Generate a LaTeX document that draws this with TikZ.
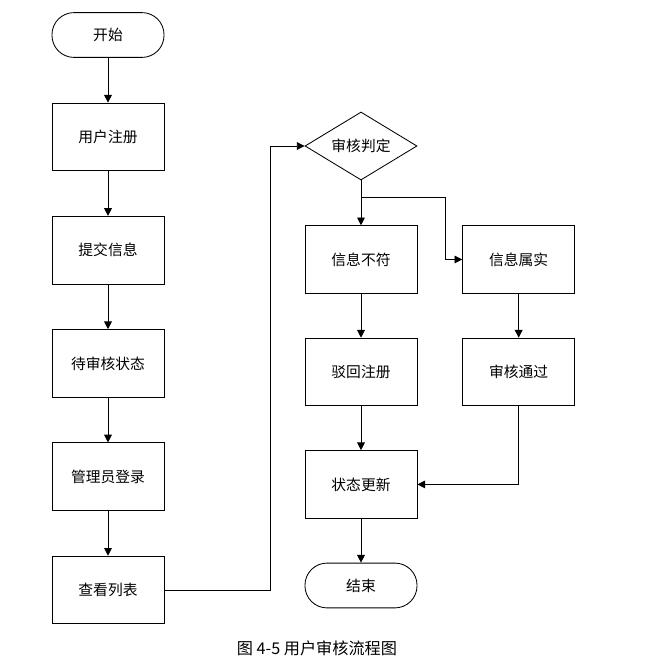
\documentclass[tikz,border=0pt]{standalone}
\usepackage{fontspec}
\setmainfont{Noto Sans CJK SC}
\usepackage{tikz}
\usetikzlibrary{calc,positioning,shapes.geometric,arrows.meta}
\tikzset{
    stepbox/.style={
    rectangle,draw=black,line width=0.6pt,minimum width=2.8cm,minimum height=1.69cm,inner sep=2pt,font=\fontsize{10.5pt}{12pt}\selectfont
    },
    term/.style={
    rectangle,rounded corners=0.55cm,draw=black,line width=0.6pt,minimum width=2.8cm,minimum height=1.12cm,font=\fontsize{10.5pt}{12pt}\selectfont
    },
    decide/.style={
    diamond,aspect=1.65,draw=black,line width=0.6pt,minimum width=2.8cm,minimum height=1.7cm,inner sep=0pt,font=\fontsize{10.5pt}{12pt}\selectfont
    },
  line/.style={draw, line width=0.6pt, -{Triangle[length=5.5pt,width=5.5pt]}}
}

\begin{document}
\begin{tikzpicture}[x=0.025cm,y=-0.025cm,node distance=1.12cm]
    \useasboundingbox (0,0) rectangle (649,667);

    % left column
    \node[term] (start) at (108,35) {开始};
    \node[stepbox,below=of start] (reg) {用户注册};
    \node[stepbox,below=of reg] (sub) {提交信息};
    \node[stepbox,below=of sub] (wait) {待审核状态};
    \node[stepbox,below=of wait] (admin) {管理员登录};
    \node[stepbox,below=of admin] (list) {查看列表};

    % right column
    \node[decide] (dec) at (361,146) {审核判定};
    \node[stepbox,below=1.12cm of dec] (no) {信息不符};
    \node[stepbox,right=1.12cm of no] (yes) {信息属实};
    \node[stepbox,below=1.1cm of no] (rej) {驳回注册};
    \node[stepbox,below=1.1cm of yes] (pass) {审核通过};
    \node[stepbox,below=1.1cm of rej] (upd) {状态更新};
    \node[term,below=1.1cm of upd] (end) {结束};

    \coordinate (split) at ($(dec.south)+(0,17)$);

    \node[font=\fontsize{11.5pt}{13pt}\selectfont] (cap) at (317,648) {图 4-5 用户审核流程图};

    \begin{scope} [every path/.style=line]
      \path (start) -- (reg);
      \path (reg) -- (sub);
      \path (sub) -- (wait);
      \path (wait) -- (admin);
      \path (admin) -- (list);
      \path (list.east) -- ++(106,0) |- (dec.west);
      \path (dec) -- (no);
      \path (split) -| ($(yes.west)+(-17,0)$) -- (yes.west);
      \path (no) -- (rej);
      \path (yes) -- (pass);
      \path (rej) -- (upd);
      \path (pass.south) |- (upd.east);
      \path (upd) -- (end);
    \end{scope}
\end{tikzpicture}
\end{document}
